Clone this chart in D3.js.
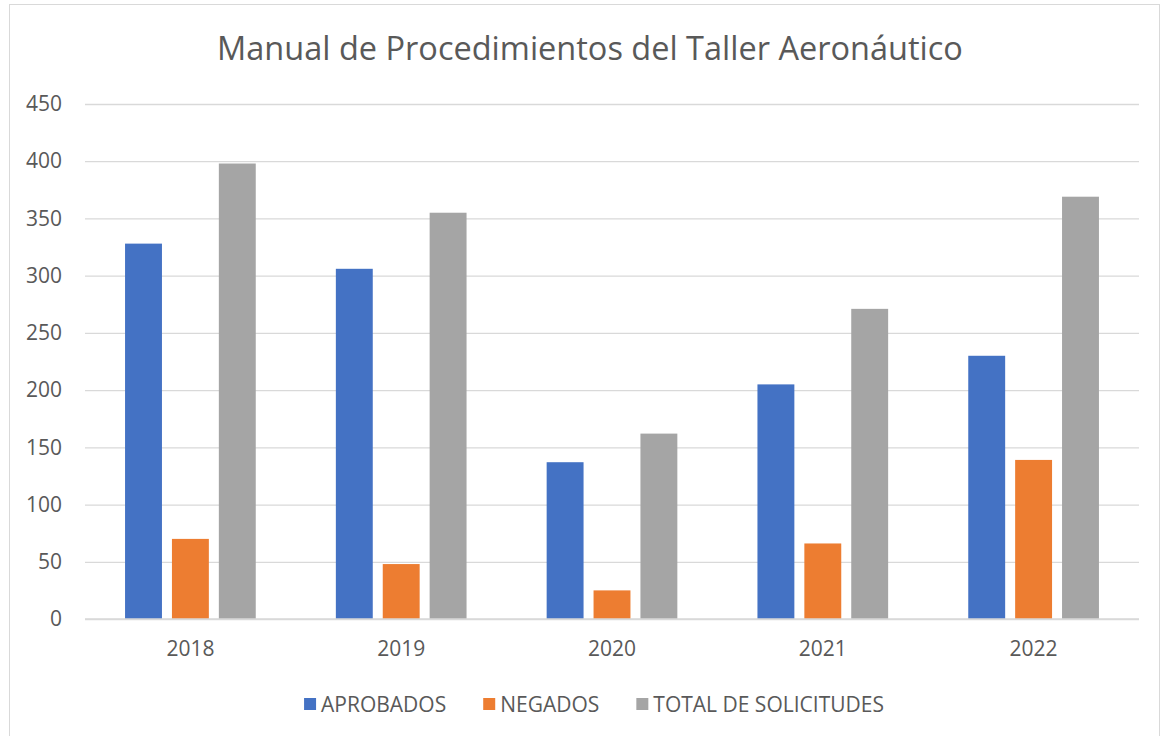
<!DOCTYPE html>
<html>
<head>
<meta charset="utf-8">
<title>Manual de Procedimientos del Taller Aeronáutico</title>
<script src="https://d3js.org/d3.v7.min.js"></script>
<style>
  body { margin: 0; background: #fff; }
  text { font-family: "Open Sans", "Noto Sans", sans-serif; fill: #595959; }
</style>
</head>
<body>
<div id="chart"></div>
<script>
// datos
const years = ["2018", "2019", "2020", "2021", "2022"];
const seriesNames = ["APROBADOS", "NEGADOS", "TOTAL DE SOLICITUDES"];
const aprobados = [328, 306, 137, 205, 230];
const negados = [70, 48, 25, 66, 139];
const totales = [398, 355, 162, 271, 369];
const yTicks = [0, 50, 100, 150, 200, 250, 300, 350, 400, 450];
const colors = ["#4472c4", "#ed7d31", "#a5a5a5"];

const W = 1167, H = 736;
const margin = {top: 104, right: 28, bottom: 117, left: 85};
const w = W - margin.left - margin.right;
const h = H - margin.top - margin.bottom;

const svg = d3.select("#chart").append("svg")
    .attr("width", W).attr("height", H);

// marco
svg.append("rect")
    .attr("x", 9.5).attr("y", 4.5)
    .attr("width", 1150).attr("height", 740)
    .attr("fill", "none").attr("stroke", "#d9d9d9");

svg.append("text")
    .attr("x", 590).attr("y", 60)
    .attr("text-anchor", "middle")
    .attr("font-size", "32.5px")
    .text("Manual de Procedimientos del Taller Aeronáutico");

const g = svg.append("g")
    .attr("transform", "translate(" + margin.left + "," + margin.top + ")");

const x0 = d3.scaleBand().domain(years).range([0, w])
    .paddingInner(0.38).paddingOuter(0.19);
const x1 = d3.scaleBand().domain(seriesNames).range([0, x0.bandwidth()])
    .paddingInner(0.213);
const y = d3.scaleLinear().domain([0, 450]).range([h, 0]);

// lineas de la cuadrícula
const yAxis = d3.axisLeft(y).tickValues(yTicks).tickSize(-w).tickPadding(23);
const ya = g.append("g").call(yAxis);
ya.select(".domain").remove();
ya.selectAll("line").attr("stroke", "#d9d9d9").attr("stroke-width", 1.3);
ya.selectAll("text").attr("font-size", "21px").attr("fill", "#595959")
    .style("font-family", "'Open Sans', sans-serif");

const rows = years.map((yr, i) => ({
    year: yr,
    values: [aprobados[i], negados[i], totales[i]]
}));

const groups = g.selectAll(".grp").data(rows).enter().append("g")
    .attr("class", "grp")
    .attr("transform", d => "translate(" + x0(d.year) + ",0)");

groups.selectAll("rect")
    .data(d => d.values.map((v, k) => ({name: seriesNames[k], value: v, k: k})))
    .enter().append("rect")
    .attr("x", d => x1(d.name))
    .attr("width", x1.bandwidth())
    .attr("y", d => y(d.value))
    .attr("height", d => h - y(d.value))
    .attr("fill", d => colors[d.k]);

// eje x
const xa = g.append("g")
    .attr("transform", "translate(0," + h + ")")
    .call(d3.axisBottom(x0).tickSize(0).tickPadding(22));
xa.select(".domain").attr("stroke", "#d9d9d9").attr("stroke-width", 1.3)
    .attr("d", "M0,0H" + w);
xa.selectAll("text").attr("font-size", "21px").attr("fill", "#595959")
    .style("font-family", "'Open Sans', sans-serif");

// leyenda
const legend = svg.append("g");
let lx = 0;
seriesNames.forEach((name, i) => {
    const item = legend.append("g").attr("transform", "translate(" + lx + ",0)");
    item.append("rect").attr("x", 0).attr("y", -12)
        .attr("width", 12).attr("height", 12).attr("fill", colors[i]);
    const t = item.append("text").attr("x", 17).attr("y", 0)
        .attr("dy", "0.1em").attr("font-size", "21px").text(name);
    lx += 17 + t.node().getComputedTextLength() + 37;
});
lx -= 37;
legend.attr("transform", "translate(" + (594 - lx / 2) + ",710)");
</script>
</body>
</html>
